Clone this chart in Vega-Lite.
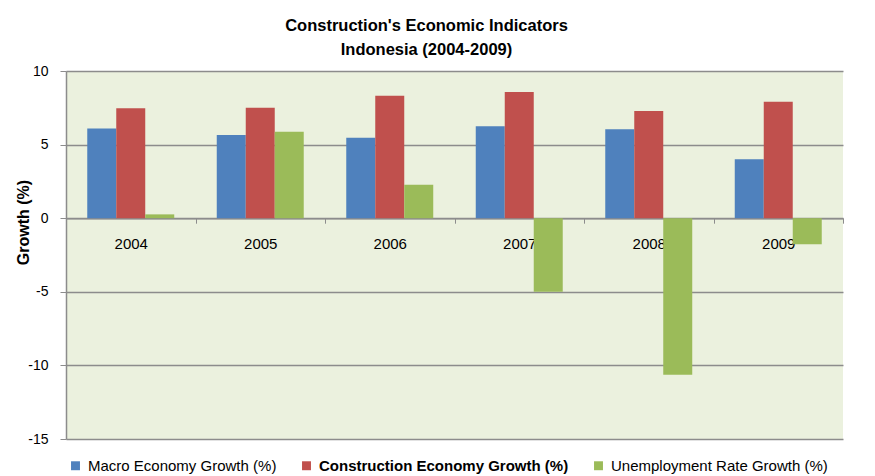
{
  "$schema": "https://vega.github.io/schema/vega-lite/v6.json",
  "autosize": {"type": "none"},
  "padding": {"left": 66, "top": 71, "right": 32, "bottom": 37},
  "width": 777,
  "height": 368,
  "background": "white",
  "title": {
    "text": ["Construction's Economic Indicators", "Indonesia (2004-2009)"],
    "font": "Liberation Sans",
    "fontSize": 16.5,
    "fontWeight": "bold",
    "color": "#000000",
    "lineHeight": 24,
    "anchor": "middle",
    "dx": -28,
    "offset": 6
  },
  "config": {
    "view": {"fill": "#ebf1de", "stroke": null},
    "font": "Liberation Sans"
  },
  "data": {
    "values": [
      {"year": "2004", "series": "Macro Economy Growth (%)", "value": 6.1},
      {"year": "2004", "series": "Construction Economy Growth (%)", "value": 7.47},
      {"year": "2004", "series": "Unemployment Rate Growth (%)", "value": 0.26},
      {"year": "2005", "series": "Macro Economy Growth (%)", "value": 5.65},
      {"year": "2005", "series": "Construction Economy Growth (%)", "value": 7.5},
      {"year": "2005", "series": "Unemployment Rate Growth (%)", "value": 5.88},
      {"year": "2006", "series": "Macro Economy Growth (%)", "value": 5.47},
      {"year": "2006", "series": "Construction Economy Growth (%)", "value": 8.32},
      {"year": "2006", "series": "Unemployment Rate Growth (%)", "value": 2.28},
      {"year": "2007", "series": "Macro Economy Growth (%)", "value": 6.24},
      {"year": "2007", "series": "Construction Economy Growth (%)", "value": 8.57},
      {"year": "2007", "series": "Unemployment Rate Growth (%)", "value": -5.0},
      {"year": "2008", "series": "Macro Economy Growth (%)", "value": 6.04},
      {"year": "2008", "series": "Construction Economy Growth (%)", "value": 7.28},
      {"year": "2008", "series": "Unemployment Rate Growth (%)", "value": -10.63},
      {"year": "2009", "series": "Macro Economy Growth (%)", "value": 4.0},
      {"year": "2009", "series": "Construction Economy Growth (%)", "value": 7.91},
      {"year": "2009", "series": "Unemployment Rate Growth (%)", "value": -1.77}
    ]
  },
  "mark": {"type": "bar"},
  "encoding": {
    "x": {
      "field": "year",
      "type": "nominal",
      "scale": {"paddingInner": 0, "paddingOuter": 0},
      "axis": {
        "title": null,
        "offset": -220.8,
        "labelAngle": 0,
        "labelFontSize": 15,
        "labelColor": "#000000",
        "labelPadding": 13,
        "tickBand": "extent",
        "tickSize": 5,
        "tickColor": "#8c8c8c",
        "domainColor": "#8c8c8c",
        "domainWidth": 1.5,
        "grid": false
      }
    },
    "xOffset": {
      "field": "series",
      "type": "nominal",
      "sort": ["Macro Economy Growth (%)", "Construction Economy Growth (%)", "Unemployment Rate Growth (%)"],
      "scale": {"paddingInner": 0, "paddingOuter": 0.733}
    },
    "y": {
      "field": "value",
      "type": "quantitative",
      "scale": {"domain": [-15, 10], "nice": false},
      "axis": {
        "title": "Growth (%)",
        "titleFontSize": 16,
        "titleFontWeight": "bold",
        "titleColor": "#000000",
        "titleAngle": -90,
        "titleX": -38,
        "titleY": 151,
        "titleAlign": "center",
        "titleBaseline": "alphabetic",
        "values": [-15, -10, -5, 0, 5, 10],
        "labelExpr": "datum.value + ''",
        "labelFontSize": 14,
        "labelColor": "#000000",
        "labelPadding": 12,
        "tickSize": 6,
        "tickColor": "#8c8c8c",
        "domainColor": "#8c8c8c",
        "domainWidth": 1.5,
        "grid": true,
        "gridColor": "#8c8c8c",
        "gridWidth": 1.5
      }
    },
    "color": {
      "field": "series",
      "type": "nominal",
      "scale": {
        "domain": ["Macro Economy Growth (%)", "Construction Economy Growth (%)", "Unemployment Rate Growth (%)"],
        "range": ["#4f81bd", "#c0504d", "#9bbb59"]
      },
      "legend": {
        "title": null,
        "orient": "none",
        "direction": "horizontal",
        "legendX": 2,
        "legendY": 387,
        "symbolType": "square",
        "symbolSize": 80,
        "symbolStrokeWidth": 0,
        "labelFontSize": 15,
        "labelColor": "#000000",
        "labelOffset": 5,
        "columnPadding": 22,
        "labelLimit": 400,
        "encode": {
          "labels": {
            "update": {
              "fontWeight": {"signal": "datum.value === 'Construction Economy Growth (%)' ? 'bold' : 'normal'"}
            }
          }
        }
      }
    }
  }
}
